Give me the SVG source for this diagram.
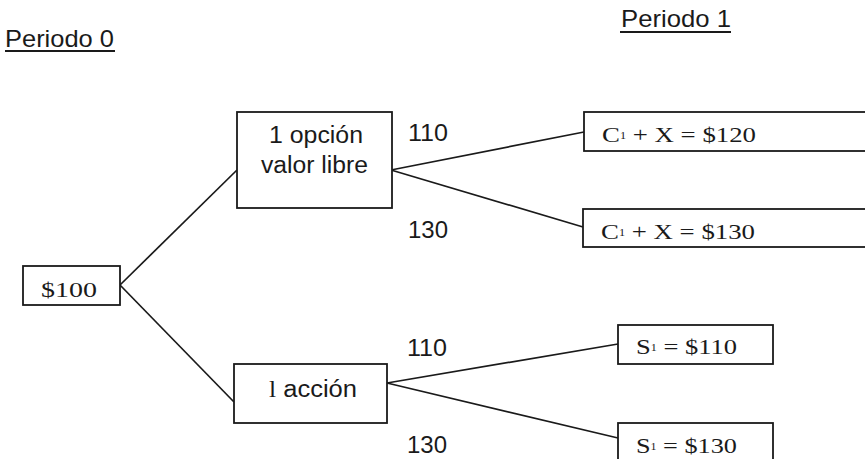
<svg xmlns="http://www.w3.org/2000/svg" width="865" height="459" viewBox="0 0 865 459">
  <style>
    .box { fill: #ffffff; stroke: #1a1a1a; stroke-width: 1.8; }
    .edge { fill: none; stroke: #1a1a1a; stroke-width: 1.7; }
    .sans { font-family: "Liberation Sans", Arial, sans-serif; font-size: 23px; fill: #1a1a1a; }
    .serif { font-family: "Liberation Serif", "Times New Roman", serif; font-size: 22px; fill: #1a1a1a; }
    .head { font-family: "Liberation Sans", Arial, sans-serif; font-size: 24px; fill: #1a1a1a; }
    .rule { stroke: #1a1a1a; stroke-width: 2.2; }
  </style>
  <rect width="865" height="459" fill="#ffffff"/>

  <!-- column headings -->
  <g id="heading-period-0">
    <text class="head" x="5" y="47" textLength="109" lengthAdjust="spacingAndGlyphs">Periodo 0</text>
    <line class="rule" x1="5" y1="51" x2="115" y2="51"/>
  </g>
  <g id="heading-period-1">
    <text class="head" x="621" y="27" textLength="110" lengthAdjust="spacingAndGlyphs">Periodo 1</text>
    <line class="rule" x1="620" y1="32" x2="731" y2="32"/>
  </g>

  <!-- tree branches -->
  <g id="connectors">
    <line class="edge" x1="120" y1="285" x2="237" y2="170"/>
    <line class="edge" x1="120" y1="285" x2="234" y2="402"/>
    <line class="edge" x1="391" y1="170" x2="584" y2="132"/>
    <line class="edge" x1="391" y1="170" x2="583" y2="227"/>
    <line class="edge" x1="387" y1="383" x2="618" y2="344"/>
    <line class="edge" x1="387" y1="383" x2="618" y2="438"/>
  </g>

  <!-- branch labels -->
  <g id="branch-labels">
    <text class="sans" x="408" y="141" textLength="40" lengthAdjust="spacingAndGlyphs">110</text>
    <text class="sans" x="408" y="238" textLength="40" lengthAdjust="spacingAndGlyphs">130</text>
    <text class="sans" x="407" y="356" textLength="40" lengthAdjust="spacingAndGlyphs">110</text>
    <text class="sans" x="407" y="453" textLength="40" lengthAdjust="spacingAndGlyphs">130</text>
  </g>

  <!-- root -->
  <g id="node-root">
    <rect class="box" x="23" y="266" width="97" height="39"/>
    <text class="serif" x="41" y="297" textLength="56" lengthAdjust="spacingAndGlyphs">$100</text>
  </g>

  <!-- period 0 positions -->
  <g id="node-option">
    <rect class="box" x="237" y="112" width="155" height="96"/>
    <text class="sans" x="269" y="143" textLength="94" lengthAdjust="spacingAndGlyphs">1 opción</text>
    <text class="sans" x="261" y="173" textLength="107" lengthAdjust="spacingAndGlyphs">valor libre</text>
  </g>
  <g id="node-share">
    <rect class="box" x="234" y="364" width="153" height="59"/>
    <text class="sans" x="269" y="397" textLength="88" lengthAdjust="spacingAndGlyphs"><tspan font-family="Liberation Serif, serif">l</tspan> acción</text>
  </g>

  <!-- period 1 outcomes -->
  <g id="node-call-up">
    <rect class="box" x="584" y="112" width="290" height="39"/>
    <text class="serif" x="602" y="142" textLength="154" lengthAdjust="spacingAndGlyphs">C<tspan font-size="10" dy="-3">1</tspan><tspan dy="3">  + X = $120</tspan></text>
  </g>
  <g id="node-call-down">
    <rect class="box" x="583" y="209" width="290" height="38"/>
    <text class="serif" x="601" y="239" textLength="154" lengthAdjust="spacingAndGlyphs">C<tspan font-size="10" dy="-3">1</tspan><tspan dy="3">  + X = $130</tspan></text>
  </g>
  <g id="node-stock-up">
    <rect class="box" x="618" y="325" width="155" height="39"/>
    <text class="serif" x="636" y="354" textLength="101" lengthAdjust="spacingAndGlyphs">S<tspan font-size="10" dy="-3">1</tspan><tspan dy="3"> = $110</tspan></text>
  </g>
  <g id="node-stock-down">
    <rect class="box" x="618" y="423" width="155" height="45"/>
    <text class="serif" x="636" y="453" textLength="101" lengthAdjust="spacingAndGlyphs">S<tspan font-size="10" dy="-3">1</tspan><tspan dy="3"> = $130</tspan></text>
  </g>
</svg>
